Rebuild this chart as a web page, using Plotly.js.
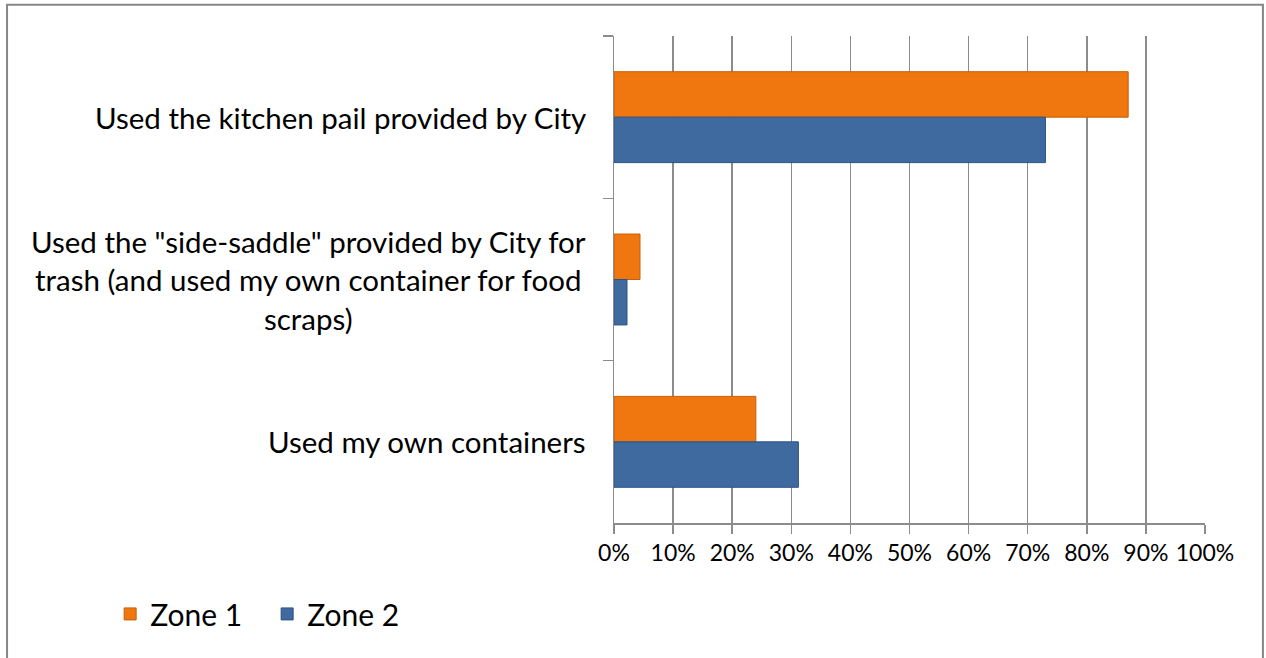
<!DOCTYPE html>
<html>
<head>
<meta charset="utf-8">
<script src="https://cdn.plot.ly/plotly-3.0.1.min.js"></script>
<style>
	html, body { margin: 0; padding: 0; background: #fff; }
	#chart { width: 1266px; height: 658px; }
</style>
</head>
<body>
<div id="chart"></div>
<script>
const categories = [
	'Used the kitchen pail provided by City',
	'Used the "side-saddle" provided by City for<br>trash (and used my own container for food<br>scraps)',
	'Used my own containers'
];
const zone1 = [0.87, 0.044, 0.24];
const zone2 = [0.73, 0.022, 0.312];
const xTicks = [0, 0.1, 0.2, 0.3, 0.4, 0.5, 0.6, 0.7, 0.8, 0.9, 1];

const FONT = 'Lato, "Open Sans", sans-serif';

function buildChart(){
	const traces = [
		{
			name: 'Zone 1',
			type: 'bar',
			orientation: 'h',
			y: categories,
			x: zone1,
			marker: {
				color: '#f0770f',
				line: { color: '#c65f08', width: 1 }
			}
		},
		{
			name: 'Zone 2',
			type: 'bar',
			orientation: 'h',
			y: categories,
			x: zone2,
			marker: {
				color: '#3e6a9f',
				line: { color: '#2c5283', width: 1 }
			}
		}
	];

	//category labels as annotations so multi-line text stays centred
	const labels = categories.map(c => ({
		text: c,
		xref: 'paper',
		yref: 'y',
		x: -0.044,
		y: c,
		xanchor: 'right',
		yanchor: 'middle',
		align: 'center',
		showarrow: false,
		font: { family: FONT, size: 29.5, color: '#000' }
	}));

	const layout = {
		width: 1266,
		height: 658,
		paper_bgcolor: '#fff',
		plot_bgcolor: '#fff',
		barmode: 'group',
		bargap: 0.44,
		bargroupgap: 0,
		margin: { l: 614, r: 61, t: 36, b: 135 },
		font: { family: FONT, color: '#000' },
		showlegend: true,
		legend: {
			orientation: 'h',
			xref: 'container',
			yref: 'container',
			x: 0.087,
			y: 0.067,
			xanchor: 'left',
			yanchor: 'middle',
			font: { family: FONT, size: 30, color: '#000' },
			itemwidth: 30,
			entrywidth: 112
		},
		xaxis: {
			range: [0, 1],
			tickvals: xTicks,
			tickformat: '.0%',
			showgrid: true,
			gridcolor: '#8c8c8c',
			gridwidth: 1.5,
			showline: true,
			linecolor: '#8c8c8c',
			linewidth: 1.5,
			ticks: 'outside',
			ticklen: 9,
			tickwidth: 1.5,
			tickcolor: '#8c8c8c',
			tickfont: { family: FONT, size: 23, color: '#000' },
			zeroline: false,
			fixedrange: true
		},
		yaxis: {
			type: 'category',
			autorange: 'reversed',
			showticklabels: false,
			showline: true,
			linecolor: '#8c8c8c',
			linewidth: 1.5,
			ticks: 'outside',
			tickson: 'boundaries',
			ticklen: 10,
			tickwidth: 1.5,
			tickcolor: '#8c8c8c',
			showgrid: false,
			zeroline: false,
			fixedrange: true
		},
		annotations: labels,
		shapes: [
			{
				type: 'rect',
				xref: 'paper',
				yref: 'paper',
				x0: -1.027,
				x1: 1.098,
				y0: -0.4,
				y1: 1.064,
				line: { color: '#868686', width: 2 },
				fillcolor: 'rgba(0,0,0,0)'
			}
		]
	};

	Plotly.newPlot('chart', traces, layout, { staticPlot: true });
}

buildChart();
</script>
</body>
</html>
